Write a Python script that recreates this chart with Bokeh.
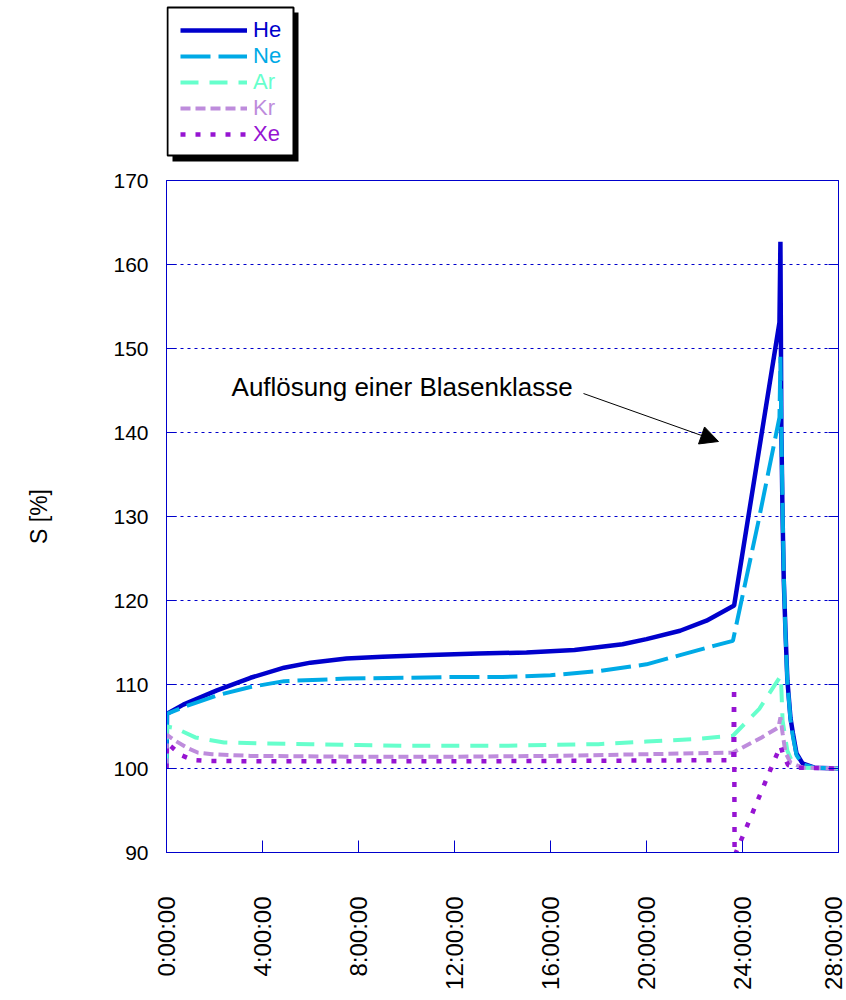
import numpy as np
from bokeh.plotting import figure
from bokeh.layouts import column
from bokeh.models import (Range1d, LinearAxis, FixedTicker, Legend, LegendItem,
                          Label, Arrow, NormalHead, BoxAnnotation)
from bokeh.embed import file_html
from bokeh.resources import INLINE

# ---- time axis (hours) and tick labels ----
tick_hours = [0, 4, 8, 12, 16, 20, 24, 28]
tick_labels = ["0:00:00", "4:00:00", "8:00:00", "12:00:00",
               "16:00:00", "20:00:00", "24:00:00", "28:00:00"]
s_ticks = [90, 100, 110, 120, 130, 140, 150, 160, 170]

# ---- supersaturation S [%] per noble gas ----
he_t = [0, 0.02, 0.7, 2.1, 3.5, 4.9, 6, 7.5, 9, 11, 13, 15, 17, 19, 20, 21.4, 22.5, 23.65,
        25.54, 25.58, 25.62, 25.67, 25.72, 25.79, 25.87, 26.0, 26.1, 26.25, 26.5, 27.0, 28.0]
he_s = [100, 106.5, 107.6, 109.3, 110.8, 112.0, 112.6, 113.1, 113.3, 113.5, 113.7, 113.8, 114.1,
        114.8, 115.4, 116.4, 117.6, 119.4,
        153.1, 162.7, 140.0, 130.0, 122.4, 116.4, 110.5, 106.0, 104.2, 101.8, 100.6, 100.1, 100.0]

ne_t = [0, 0.02, 0.7, 2.1, 3.5, 4.9, 7.5, 10, 12, 14, 16, 18, 20, 21.4, 22.8, 23.6,
        24.67, 25.54, 25.58, 25.62, 25.67, 25.72, 25.79, 25.87, 26.0, 26.1, 26.25, 26.5, 27.0, 28.0]
ne_s = [100, 106.5, 107.3, 108.7, 109.7, 110.4, 110.7, 110.8, 110.9, 110.9, 111.1, 111.6, 112.4,
        113.5, 114.6, 115.2,
        129.5, 141.8, 149.0, 140.0, 131.0, 123.0, 116.0, 110.3, 105.8, 103.8, 101.6, 100.5, 100.1, 100.0]

ar_t = [0, 0.02, 0.37, 1.2, 2.4, 3.8, 6, 8, 10, 12, 14, 16, 18, 20, 22, 23.6,
        24.7, 25.54, 25.6, 25.67, 25.87, 26.1, 26.5, 28.0]
ar_s = [100, 105.0, 104.8, 103.7, 103.1, 103.0, 102.9, 102.8, 102.7, 102.7, 102.7, 102.8, 102.9,
        103.2, 103.5, 103.9,
        107.1, 110.8, 111.0, 105.7, 102.1, 100.6, 100.1, 100.0]

kr_t = [0, 0.02, 0.37, 0.9, 1.3, 1.9, 3.5, 8, 12, 16, 20, 23.6,
        24.8, 25.5, 25.58, 25.67, 25.79, 26.0, 26.5, 28.0]
kr_s = [100, 104.0, 103.3, 102.4, 101.9, 101.7, 101.5, 101.4, 101.4, 101.5, 101.7, 101.9,
        103.7, 104.9, 106.1, 104.2, 101.9, 100.7, 100.1, 100.0]

xe_t = [0, 0.02, 0.2, 0.6, 1.1, 1.7, 4, 8, 12, 16, 20, 23.62, 23.65, 23.67,
        25.58, 25.67, 25.9, 26.3, 28.0]
xe_s = [100, 103.0, 102.6, 101.6, 101.0, 100.9, 100.85, 100.85, 100.85, 100.9, 100.95, 101.0,
        109.7, 89.6,
        102.7, 101.9, 100.4, 100.1, 100.0]

series = [
    ("He", he_t, he_s, "#0000CC", None, 4.5),
    ("Ne", ne_t, ne_s, "#00AAE6", "30 8", 4),
    ("Ar", ar_t, ar_s, "#66FFCC", "18 11", 4),
    ("Kr", kr_t, kr_s, "#BE8CDC", "10 5", 4),
    ("Xe", xe_t, xe_s, "#9614D2", "5 10", 4.5),
]

FONT = "Liberation Sans"
BLUE = "#0000CC"
LEGEND_H = 168
FRAME_LEFT, FRAME_RIGHT = 166, 838   # page pixels of the chart frame


def line_style(color, dash, lw):
    kw = dict(line_color=color, line_width=lw)
    if dash:
        kw["line_dash"] = dash
    return kw


# ---------------- main chart ----------------
p = figure(width=846, height=1000 - LEGEND_H, output_backend="svg", toolbar_location=None,
           x_range=Range1d(0, 28), y_range=Range1d(90, 170),
           min_border_left=FRAME_LEFT, min_border_right=846 - FRAME_RIGHT,
           min_border_top=180 - LEGEND_H, min_border_bottom=148)
p.background_fill_color = "white"
p.border_fill_color = "white"
p.outline_line_color = BLUE
p.outline_line_width = 1
p.outline_line_alpha = 1.0

p.xgrid.visible = False
p.ygrid.ticker = FixedTicker(ticks=s_ticks)
p.ygrid.grid_line_color = BLUE
p.ygrid.grid_line_dash = "3 4"
p.ygrid.grid_line_width = 1

# bottom axis: clock-time labels, rotated
xa = p.xaxis[0]
xa.ticker = FixedTicker(ticks=tick_hours)
xa.major_label_overrides = {h: lab for h, lab in zip(tick_hours, tick_labels)}
xa.major_label_orientation = np.pi / 2
xa.major_label_text_font = FONT
xa.major_label_text_font_size = "24px"
xa.major_label_text_color = "black"
xa.major_label_standoff = 44
xa.axis_line_color = BLUE
xa.major_tick_line_color = BLUE
xa.major_tick_in = 12
xa.major_tick_out = 0
xa.minor_tick_in = 0
xa.minor_tick_out = 0

# left axis
ya = p.yaxis[0]
ya.ticker = FixedTicker(ticks=s_ticks)
ya.axis_label = "S [%]"
ya.axis_label_text_font = FONT
ya.axis_label_text_font_style = "normal"
ya.axis_label_text_font_size = "23px"
ya.axis_label_text_color = "black"
ya.axis_label_standoff = 58
ya.major_label_text_font = FONT
ya.major_label_text_font_size = "21px"
ya.major_label_text_color = "black"
ya.major_label_standoff = 18
ya.axis_line_color = BLUE
ya.major_tick_line_color = BLUE
ya.major_tick_in = 10
ya.major_tick_out = 0
ya.minor_tick_in = 0
ya.minor_tick_out = 0

# right axis: inward ticks only
ra = LinearAxis(ticker=FixedTicker(ticks=s_ticks),
                major_label_overrides={t: "" for t in s_ticks},
                major_label_standoff=0, axis_line_color=BLUE, major_tick_line_color=BLUE,
                major_tick_in=10, major_tick_out=0, minor_tick_in=0, minor_tick_out=0)
p.add_layout(ra, "right")

for name, t, s, color, dash, lw in series:
    p.line(t, s, **line_style(color, dash, lw))

# annotation with arrow
p.add_layout(Label(x=2.71, y=145.36, text="Auflösung einer Blasenklasse",
                   text_font=FONT, text_font_size="26px", text_color="black",
                   text_baseline="alphabetic"))
p.add_layout(Arrow(end=NormalHead(size=18, fill_color="black", line_color="black", line_width=1),
                   x_start=17.375, y_start=144.64, x_end=23.0, y_end=138.93,
                   line_color="black", line_width=1))

# ---------------- legend strip above the chart ----------------
# the column layout aligns this strip's frame with the chart frame, so its
# x range is expressed in page pixels of that frame
lg = figure(width=846, height=LEGEND_H, output_backend="svg", toolbar_location=None,
            x_range=Range1d(FRAME_LEFT, FRAME_RIGHT), y_range=Range1d(LEGEND_H, 0),
            x_axis_type=None, y_axis_type=None, min_border=0)
lg.grid.visible = False
lg.outline_line_color = None
lg.background_fill_color = "white"
lg.border_fill_color = "white"

# framed box with drop shadow
lg.add_layout(BoxAnnotation(left=172, right=298, top=12, bottom=161,
                            fill_color="black", fill_alpha=1.0, line_color=None))
lg.add_layout(BoxAnnotation(left=167, right=293, top=7, bottom=155,
                            fill_color="white", fill_alpha=1.0,
                            line_color="black", line_width=2, line_alpha=1.0))

# one legend per gas so each label carries its line colour
for i, (name, t, s, color, dash, lw) in enumerate(series):
    r = lg.line([np.nan, np.nan], [np.nan, np.nan], **line_style(color, dash, lw))
    center = 33 + 26 * i
    leg = Legend(items=[LegendItem(label=name, renderers=[r])],
                 location=(14, LEGEND_H - (center + 10)),
                 padding=0, margin=0, spacing=0,
                 glyph_width=67, glyph_height=20, label_height=20, label_standoff=6,
                 label_text_font=FONT, label_text_font_size="22px",
                 label_text_color=color, label_text_baseline="middle",
                 background_fill_alpha=0, border_line_color=None)
    lg.add_layout(leg, "center")

layout = column(lg, p, spacing=0)
open("out.html", "w").write(file_html(layout, INLINE))
